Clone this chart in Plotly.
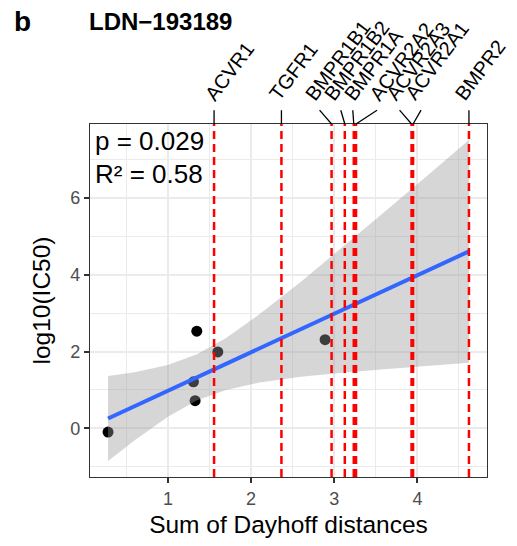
import plotly.graph_objects as go

# ---------------- data ----------------
dayhoff_sum = [0.28, 1.307, 1.327, 1.347, 1.60, 2.89]
log10_ic50 = [-0.10, 1.21, 0.72, 2.53, 1.99, 2.31]

genes = ["ACVR1", "TGFR1", "BMPR1B1", "BMPR1B2", "BMPR1A",
         "ACVR2A2", "ACVR2A3", "ACVR2A1", "BMPR2"]
gene_dayhoff = [1.555, 2.365, 2.968, 3.127, 3.235, 3.262, 3.930, 3.948, 4.620]

# fitted regression line and its confidence band
fit_x = [0.28, 4.62]
fit_y = [0.255, 4.61]
band_x = [0.28, 0.6, 1.0, 1.35, 1.7, 2.1, 2.6, 3.1, 3.6, 4.1, 4.62]
band_lo = [-0.85, -0.31, 0.30, 0.73, 1.00, 1.19, 1.34, 1.45, 1.54, 1.63, 1.71]
band_hi = [1.36, 1.46, 1.65, 1.93, 2.35, 2.97, 3.82, 4.72, 5.63, 6.55, 7.51]

p_text = "p = 0.029"
r2_text = "R² = 0.58"
title_text = "LDN\u2212193189"
tag_text = "b"

x_ticks = [1, 2, 3, 4]
y_ticks = [0, 2, 4, 6]

# ---------------- layout helpers (label placement, pixels) ----------------
label_dx = [-7, -10, -25, -19, -8, 16, -23, -6, -12]     # glyph start relative to gene line
conn_dx = [0, 0, -12, -4, -1, 21, -12, 8, 0]            # connector top relative to gene line
LABEL_ANGLE = -53
LABEL_SIZE = 20

FONT = "Liberation Sans, Arial, sans-serif"
W, H = 517, 546
ML, MR, MT, MB = 90, 30, 124, 64
plot_h = H - MT - MB


def py2paper(py):
    return (H - MB - py) / plot_h


def px2paper(px):
    return (px - ML) / (W - ML - MR)


fig = go.Figure()
fig.add_trace(go.Scatter(x=dayhoff_sum, y=log10_ic50, mode="markers",
                         marker=dict(color="black", size=11, line=dict(width=0)),
                         showlegend=False, hoverinfo="skip"))
fig.add_trace(go.Scatter(x=band_x, y=band_hi, mode="lines", line=dict(width=0),
                         showlegend=False, hoverinfo="skip"))
fig.add_trace(go.Scatter(x=band_x, y=band_lo, mode="lines", line=dict(width=0),
                         fill="tonexty", fillcolor="rgba(153,153,153,0.4)",
                         showlegend=False, hoverinfo="skip"))
fig.add_trace(go.Scatter(x=fit_x, y=fit_y, mode="lines",
                         line=dict(color="#3366FF", width=4),
                         showlegend=False, hoverinfo="skip"))

shapes = []
for gx in gene_dayhoff:
    shapes.append(dict(type="line", xref="x", yref="paper", x0=gx, x1=gx, y0=0, y1=1,
                       line=dict(color="#FF0000", width=2.5, dash="8px,5px"), layer="above"))
for gx, cdx in zip(gene_dayhoff, conn_dx):
    shapes.append(dict(type="line", xref="x", yref="paper", xsizemode="pixel", xanchor=gx,
                       x0=0, x1=cdx, y0=1.0, y1=py2paper(110),
                       line=dict(color="black", width=1.3), layer="above"))

annotations = []
for g, gx, ldx in zip(genes, gene_dayhoff, label_dx):
    annotations.append(dict(text=g, x=gx, xref="x", y=py2paper(107), yref="paper",
                            xanchor="left", yanchor="bottom", xshift=ldx - 9,
                            textangle=LABEL_ANGLE, showarrow=False,
                            font=dict(family=FONT, size=LABEL_SIZE, color="black")))
annotations.append(dict(text=p_text, x=px2paper(93), y=py2paper(141), xref="paper", yref="paper",
                        xanchor="left", yanchor="middle", showarrow=False,
                        font=dict(family=FONT, size=26, color="black")))
annotations.append(dict(text=r2_text, x=px2paper(93), y=py2paper(175), xref="paper", yref="paper",
                        xanchor="left", yanchor="middle", showarrow=False,
                        font=dict(family=FONT, size=26, color="black")))
annotations.append(dict(text="<b>" + title_text + "</b>", x=px2paper(87), y=py2paper(20),
                        xref="paper", yref="paper", xanchor="left", yanchor="middle",
                        showarrow=False, font=dict(family=FONT, size=24, color="black")))
annotations.append(dict(text="<b>" + tag_text + "</b>", x=px2paper(12), y=py2paper(20),
                        xref="paper", yref="paper", xanchor="left", yanchor="middle",
                        showarrow=False, font=dict(family=FONT, size=28, color="black")))

axis_common = dict(showline=True, mirror=True, linecolor="#333333", linewidth=1.3,
                   ticks="outside", ticklen=5, tickwidth=1.5, tickcolor="#333333",
                   showgrid=True, gridcolor="#EBEBEB", gridwidth=2, zeroline=False,
                   tickfont=dict(family=FONT, size=18, color="#4D4D4D"))

fig.update_layout(
    width=W, height=H,
    margin=dict(l=ML, r=MR, t=MT, b=MB, pad=0),
    paper_bgcolor="white", plot_bgcolor="white",
    shapes=shapes, annotations=annotations,
    xaxis=dict(range=[0.063, 4.837], tickvals=x_ticks,
               minor=dict(tickvals=[0.5, 1.5, 2.5, 3.5, 4.5], showgrid=True,
                          gridcolor="#EBEBEB", gridwidth=1.2, ticks=""),
               title=dict(text="Sum of Dayhoff distances", standoff=8,
                          font=dict(family=FONT, size=24.5, color="black")),
               **axis_common),
    yaxis=dict(range=[-1.27, 7.93], tickvals=y_ticks,
               minor=dict(tickvals=[-1, 1, 3, 5, 7], showgrid=True,
                          gridcolor="#EBEBEB", gridwidth=1.2, ticks=""),
               title=dict(text="log10(IC50)", standoff=12,
                          font=dict(family=FONT, size=24.5, color="black")),
               **axis_common),
)

fig.write_html("out.html")
